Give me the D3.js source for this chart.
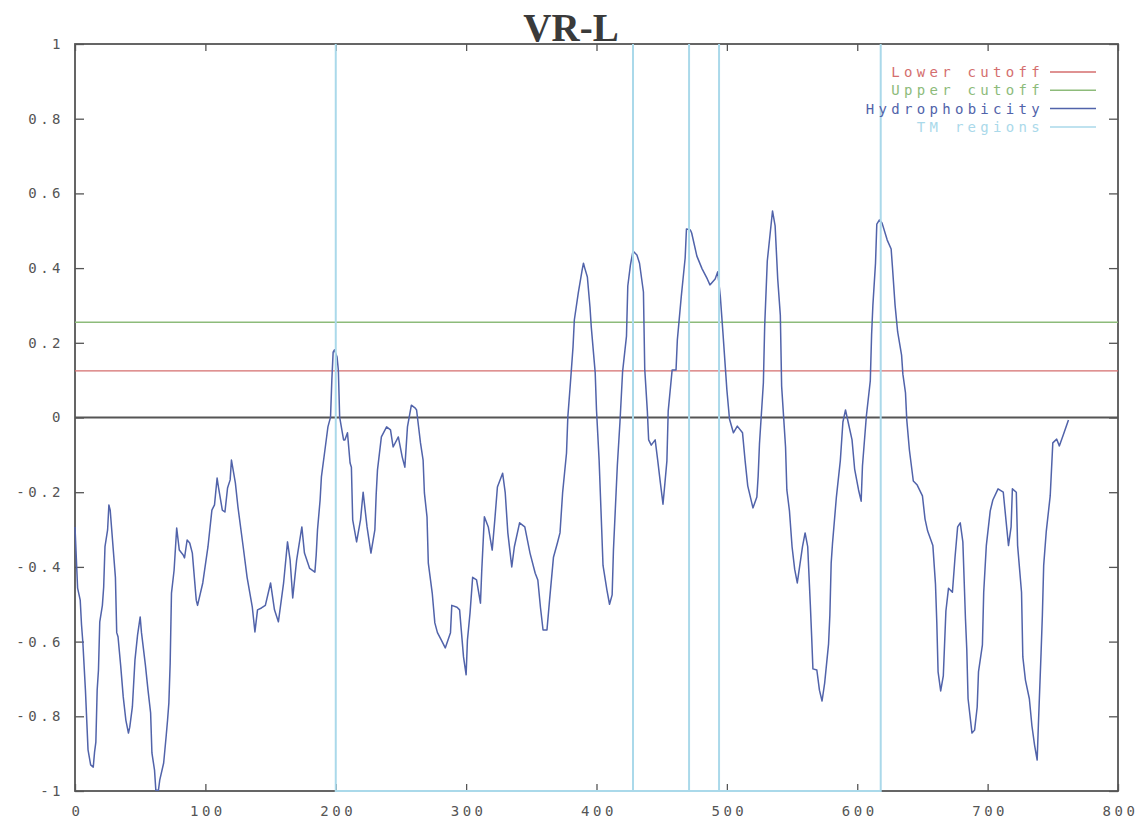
<!DOCTYPE html>
<html>
<head>
<meta charset="utf-8">
<script src="https://cdn.jsdelivr.net/npm/d3@7"></script>
<style>
  body { margin: 0; background: #fff; }
  svg text { font-family: "DejaVu Sans Mono", monospace; }
</style>
</head>
<body>
<div id="chart"></div>
<script>
// hydrophobicity profile (residue, value)
var residue = [0,2,4,5,6,8,10,12,14,15,16,17,18,19,21,22,23,25,26,27,28,31,32,33,35,37,39,41,42,44,
  46,48,50,51,54,56,58,59,61,62,64,65,68,70,71,72,73,74,76,78,80,83,84,86,88,90,93,94,98,102,
  105,107,109,110,113,115,117,119,120,123,125,129,132,136,138,140,143,146,150,153,156,160,163,165,167,170,174,176,180,184,
  185,186,188,189,192,194,196,197,198,199,201,202,203,206,207,209,211,212,213,216,219,221,224,227,230,231,232,235,239,242,
  244,248,251,253,255,258,261,262,265,267,268,270,271,274,276,278,281,284,288,289,293,295,298,300,301,303,305,308,311,312,
  314,317,320,322,324,328,330,332,335,337,341,345,349,353,355,357,359,362,364,367,370,372,374,377,378,380,382,383,386,389,
  390,391,393,395,396,399,400,402,404,405,408,410,412,413,416,418,420,423,424,426,428,431,433,436,437,439,440,442,445,447,
  449,451,452,454,455,458,461,462,465,468,469,472,473,477,481,485,487,491,493,495,497,500,502,505,508,512,514,516,520,523,
  524,525,528,529,531,535,537,539,541,542,545,546,548,550,552,554,558,560,562,564,565,566,569,571,573,575,578,579,580,581,
  584,587,589,591,593,596,598,601,603,604,607,610,611,612,614,615,617,619,623,626,627,629,631,634,635,637,638,640,643,646,
  650,652,654,658,660,661,662,664,666,668,670,673,675,677,679,681,683,684,685,688,690,692,693,696,697,699,702,704,708,712,
  714,716,718,719,722,723,726,727,729,732,734,736,738,739,741,742,743,745,748,750,753,755,758,762];
var hydrophobicity = [-0.293,-0.457,-0.489,-0.555,-0.601,-0.73,-0.89,-0.93,-0.936,-0.896,-0.869,-0.73,-0.676,-0.547,-0.503,-0.454,-0.346,-0.301,-0.234,-0.248,-0.293,-0.428,-0.576,-0.587,-0.663,-0.748,-0.81,-0.845,-0.829,-0.775,
  -0.649,-0.582,-0.534,-0.576,-0.663,-0.73,-0.791,-0.898,-0.944,-0.998,-0.998,-0.971,-0.925,-0.85,-0.81,-0.764,-0.657,-0.47,-0.409,-0.296,-0.355,-0.368,-0.376,-0.328,-0.336,-0.363,-0.489,-0.503,-0.443,-0.346,
  -0.248,-0.234,-0.162,-0.186,-0.248,-0.253,-0.189,-0.167,-0.114,-0.175,-0.24,-0.346,-0.428,-0.508,-0.574,-0.515,-0.51,-0.503,-0.443,-0.515,-0.547,-0.443,-0.333,-0.382,-0.483,-0.382,-0.293,-0.363,-0.404,-0.414,
  -0.368,-0.301,-0.221,-0.159,-0.079,-0.025,0.001,0.1,0.175,0.181,0.162,0.127,0.001,-0.06,-0.06,-0.041,-0.122,-0.133,-0.274,-0.333,-0.274,-0.2,-0.293,-0.363,-0.301,-0.207,-0.141,-0.052,-0.025,-0.033,
  -0.079,-0.052,-0.106,-0.133,-0.025,0.033,0.025,0.02,-0.068,-0.114,-0.202,-0.266,-0.39,-0.47,-0.55,-0.576,-0.596,-0.617,-0.576,-0.503,-0.508,-0.515,-0.641,-0.689,-0.596,-0.523,-0.428,-0.435,-0.497,-0.409,
  -0.266,-0.293,-0.355,-0.274,-0.186,-0.149,-0.202,-0.309,-0.4,-0.346,-0.282,-0.293,-0.363,-0.417,-0.435,-0.508,-0.569,-0.569,-0.489,-0.374,-0.336,-0.309,-0.202,-0.095,0.001,0.093,0.189,0.261,0.333,0.395,
  0.413,0.4,0.376,0.296,0.242,0.12,0.02,-0.114,-0.301,-0.396,-0.462,-0.5,-0.475,-0.355,-0.127,-0.012,0.122,0.218,0.352,0.408,0.446,0.435,0.413,0.336,0.13,0.017,-0.06,-0.074,-0.06,-0.116,
  -0.175,-0.232,-0.194,-0.116,0.017,0.127,0.127,0.207,0.323,0.427,0.505,0.502,0.494,0.432,0.398,0.371,0.355,0.371,0.39,0.323,0.226,0.074,-0.004,-0.041,-0.023,-0.041,-0.116,-0.183,-0.242,-0.213,
  -0.157,-0.071,0.093,0.245,0.419,0.553,0.513,0.371,0.274,0.084,-0.079,-0.194,-0.25,-0.346,-0.406,-0.443,-0.346,-0.309,-0.346,-0.5,-0.584,-0.673,-0.676,-0.73,-0.759,-0.711,-0.606,-0.529,-0.39,-0.338,
  -0.213,-0.116,-0.012,0.02,-0.012,-0.06,-0.138,-0.194,-0.224,-0.13,0.004,0.098,0.221,0.301,0.413,0.518,0.529,0.521,0.475,0.451,0.403,0.301,0.229,0.167,0.116,0.066,-0.007,-0.087,-0.17,-0.181,
  -0.21,-0.272,-0.304,-0.343,-0.446,-0.547,-0.681,-0.732,-0.692,-0.518,-0.457,-0.468,-0.374,-0.293,-0.282,-0.333,-0.539,-0.62,-0.753,-0.845,-0.837,-0.775,-0.681,-0.609,-0.468,-0.343,-0.25,-0.221,-0.191,-0.2,
  -0.272,-0.343,-0.293,-0.191,-0.2,-0.343,-0.468,-0.641,-0.703,-0.753,-0.826,-0.877,-0.917,-0.816,-0.63,-0.529,-0.396,-0.304,-0.21,-0.068,-0.058,-0.076,-0.047,-0.007];

var tmRegions = [200, 428, 471, 494, 618];
var lowerCutoff = 0.125;
var upperCutoff = 0.255;

var xTicks = [0, 100, 200, 300, 400, 500, 600, 700, 800];
var yTicks = [-1, -0.8, -0.6, -0.4, -0.2, 0, 0.2, 0.4, 0.6, 0.8, 1];

var legendNames = ["Lower cutoff", "Upper cutoff", "Hydrophobicity", "TM regions"];
var legendColors = ["#d46e6e", "#8dbb7a", "#5163aa", "#aad9ea"];

var width = 1139, height = 819;
var plotLeft = 75, plotRight = 1118, plotTop = 44, plotBottom = 791;

var svg = d3.select("#chart").append("svg")
  .attr("width", width)
  .attr("height", height);

var x = d3.scaleLinear().domain([0, 800]).range([plotLeft, plotRight]);
var y = d3.scaleLinear().domain([-1, 1]).range([plotBottom, plotTop]);

var fmt = d3.formatLocale({decimal: ".", thousands: ",", grouping: [3], currency: ["", ""], minus: "-"}).format("~g");

// frame
svg.append("rect")
  .attr("x", plotLeft).attr("y", plotTop)
  .attr("width", plotRight - plotLeft).attr("height", plotBottom - plotTop)
  .attr("fill", "none")
  .attr("stroke", "#555")
  .attr("stroke-width", 1.8);

// axes, ticks pointing inward
function styleAxis(g) {
  g.select(".domain").remove();
  g.selectAll(".tick line").attr("stroke", "#555").attr("stroke-width", 1.3);
  g.selectAll("text")
    .attr("fill", "#555")
    .attr("font-size", 14)
    .attr("letter-spacing", 3.5);
}

svg.append("g")
  .attr("transform", "translate(" + plotLeft + ",0)")
  .call(d3.axisLeft(y).tickValues(yTicks).tickSizeInner(-9).tickSizeOuter(0).tickPadding(11).tickFormat(fmt))
  .call(styleAxis);

svg.append("g")
  .attr("transform", "translate(" + plotRight + ",0)")
  .call(d3.axisRight(y).tickValues(yTicks).tickSizeInner(-9).tickSizeOuter(0).tickFormat(""))
  .call(styleAxis);

svg.append("g")
  .attr("transform", "translate(0," + plotBottom + ")")
  .call(d3.axisBottom(x).tickValues(xTicks).tickSizeInner(-7).tickSizeOuter(0).tickPadding(15).tickFormat(fmt))
  .call(styleAxis)
  .selectAll("text").attr("dx", 2);

svg.append("g")
  .attr("transform", "translate(0," + plotTop + ")")
  .call(d3.axisTop(x).tickValues(xTicks).tickSizeInner(-7).tickSizeOuter(0).tickFormat(""))
  .call(styleAxis);

// zero axis
svg.append("line")
  .attr("x1", x(0)).attr("x2", x(800))
  .attr("y1", y(0)).attr("y2", y(0))
  .attr("stroke", "#555")
  .attr("stroke-width", 1.8);

// cutoffs
svg.append("line")
  .attr("x1", x(0)).attr("x2", x(800))
  .attr("y1", y(lowerCutoff)).attr("y2", y(lowerCutoff))
  .attr("stroke", legendColors[0])
  .attr("stroke-width", 1.3);

svg.append("line")
  .attr("x1", x(0)).attr("x2", x(800))
  .attr("y1", y(upperCutoff)).attr("y2", y(upperCutoff))
  .attr("stroke", legendColors[1])
  .attr("stroke-width", 1.3);

// hydrophobicity
var profile = residue.map(function(r, i) { return [r, hydrophobicity[i]]; });
var line = d3.line()
  .x(function(d) { return x(d[0]); })
  .y(function(d) { return y(d[1]); });

svg.append("path")
  .datum(profile)
  .attr("fill", "none")
  .attr("stroke", legendColors[2])
  .attr("stroke-width", 1.5)
  .attr("stroke-linejoin", "round")
  .attr("d", line);

// TM regions: spikes from -1 up to 1 and back
var tmPoints = [];
tmRegions.forEach(function(t) {
  tmPoints.push([t, -1], [t, 1], [t, -1]);
});
svg.append("path")
  .datum(tmPoints)
  .attr("fill", "none")
  .attr("stroke", legendColors[3])
  .attr("stroke-width", 2)
  .attr("d", line);

// legend
var legend = svg.append("g").attr("class", "legend");
legend.selectAll("g")
  .data(legendNames)
  .enter()
  .append("g")
  .each(function(d, i) {
    var g = d3.select(this);
    var ly = 72 + i * 18.3;
    g.append("text")
      .attr("x", 1044)
      .attr("y", ly)
      .attr("dy", "0.35em")
      .attr("text-anchor", "end")
      .attr("font-size", 14)
      .attr("letter-spacing", 4.3)
      .attr("fill", legendColors[i])
      .text(d);
    g.append("line")
      .attr("x1", 1050).attr("x2", 1096)
      .attr("y1", ly).attr("y2", ly)
      .attr("stroke", legendColors[i])
      .attr("stroke-width", 1.5);
  });

// title
svg.append("text")
  .attr("x", 571)
  .attr("y", 41)
  .attr("text-anchor", "middle")
  .style("font-family", "'Liberation Serif', 'Times New Roman', serif")
  .attr("font-size", 39)
  .attr("font-weight", "bold")
  .attr("fill", "#3a3a3a")
  .text("VR-L");
</script>
</body>
</html>
